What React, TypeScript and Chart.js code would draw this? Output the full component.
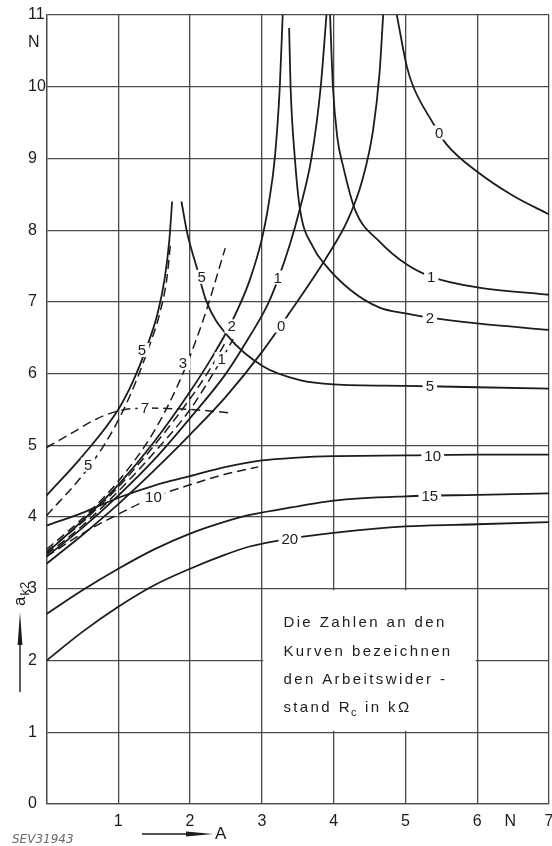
import React, { useEffect, useRef } from "react";
import { Chart, registerables } from "chart.js";

Chart.register(...registerables);

type P = [number, number];

// ---- axes ----
const xTickValues = [0, 1, 2, 3, 4, 5, 6, 7];
const xUnitTick = 6.46;
const yTickValues = [0, 1, 2, 3, 4, 5, 6, 7, 8, 9, 10, 11];
const yUnitTick = 10.61;
const unitLabel = "N";

// ---- solid curves (resonance family) ----
const rise0: P[] = [[0, 3.35], [0.5, 3.75], [1, 4.18], [1.5, 4.65], [2, 5.15], [2.5, 5.68], [3, 6.3], [3.4, 6.87], [3.9, 7.62], [4.2, 8.15], [4.4, 8.7], [4.55, 9.4], [4.64, 10.2], [4.69, 11]];
const rise1: P[] = [[0, 3.45], [0.5, 3.85], [1, 4.3], [1.5, 4.8], [2, 5.38], [2.5, 6.0], [2.83, 6.52], [3.07, 6.94], [3.22, 7.3], [3.39, 7.8], [3.53, 8.3], [3.69, 9], [3.82, 10], [3.9, 11]];
const rise2: P[] = [[0, 3.5], [0.5, 3.95], [1, 4.45], [1.5, 5.05], [2, 5.75], [2.3, 6.22], [2.58, 6.72], [2.83, 7.3], [3.01, 7.92], [3.1, 8.4], [3.18, 9], [3.25, 10], [3.29, 11]];
const rise5: P[] = [[0, 4.3], [0.5, 4.85], [1, 5.5], [1.2, 5.88], [1.4, 6.38], [1.55, 6.85], [1.65, 7.35], [1.71, 7.85], [1.75, 8.4]];
const fall0: P[] = [[4.88, 11], [5.02, 10.28], [5.11, 10], [5.38, 9.5], [5.57, 9.2], [6.02, 8.8], [6.5, 8.48], [7, 8.22]];
const fall1: P[] = [[3.95, 11], [3.99, 10], [4.05, 9.3], [4.13, 8.9], [4.3, 8.28], [4.64, 7.84], [5.02, 7.52], [5.36, 7.35], [6.02, 7.2], [7, 7.1]];
const fall2: P[] = [[3.38, 10.82], [3.4, 10], [3.46, 9], [3.53, 8.3], [3.71, 7.77], [3.88, 7.52], [4.23, 7.17], [4.64, 6.92], [5, 6.84], [5.34, 6.78], [6, 6.7], [7, 6.61]];
const fall5: P[] = [[1.88, 8.4], [1.96, 7.96], [2.09, 7.49], [2.23, 7.0], [2.53, 6.52], [3.02, 6.1], [3.53, 5.91], [4, 5.85], [5, 5.83], [6, 5.81], [7, 5.79]];
const flat10: P[] = [[0, 3.88], [0.5, 4.06], [1, 4.27], [1.5, 4.44], [2, 4.57], [2.5, 4.7], [3, 4.79], [3.5, 4.83], [4, 4.85], [5, 4.86], [6, 4.87], [7, 4.87]];
const flat15: P[] = [[0, 2.65], [0.5, 2.98], [1, 3.28], [1.5, 3.55], [2, 3.77], [2.5, 3.94], [2.83, 4.03], [3.5, 4.15], [4, 4.23], [5, 4.29], [6, 4.31], [7, 4.33]];
const flat20: P[] = [[0, 2.0], [0.5, 2.4], [1, 2.75], [1.5, 3.05], [2, 3.28], [2.5, 3.48], [2.83, 3.59], [3.39, 3.7], [4, 3.78], [5, 3.87], [6, 3.9], [7, 3.93]];

// ---- dashed curves ----
const dash1: P[] = [[0, 3.48], [0.5, 3.88], [1, 4.36], [1.5, 4.9], [2, 5.5], [2.44, 6.2], [2.6, 6.48]];
const dash2: P[] = [[0, 3.52], [0.5, 3.93], [1, 4.42], [1.5, 5.0], [2, 5.65], [2.3, 6.1], [2.5, 6.45]];
const dash3: P[] = [[0, 3.55], [0.5, 3.98], [1, 4.5], [1.5, 5.2], [1.9, 6.0], [2.2, 6.8], [2.49, 7.75]];
const dash5: P[] = [[0, 4.02], [0.5, 4.58], [0.8, 5.0], [1.05, 5.45], [1.25, 5.9], [1.43, 6.38], [1.58, 6.85], [1.68, 7.35], [1.73, 7.85]];
const dash7: P[] = [[0, 4.97], [0.35, 5.17], [0.7, 5.37], [1, 5.48], [1.37, 5.52], [2, 5.5], [2.6, 5.45]];
const dash10: P[] = [[0, 3.45], [0.5, 3.77], [1, 4.04], [1.5, 4.28], [2, 4.45], [2.5, 4.6], [2.95, 4.7]];

const solidCurves: P[][] = [rise0, rise1, rise2, rise5, fall0, fall1, fall2, fall5, flat10, flat15, flat20];
const dashedCurves: P[][] = [dash1, dash2, dash3, dash5, dash7, dash10];

// ---- curve labels (R_c in kOhm) ----
const curveLabelText = ["0", "1", "2", "5", "10", "15", "20", "1", "0", "2", "5", "5", "5", "3", "1", "7", "10"];
const curveLabelX = [5.47, 5.36, 5.34, 5.34, 5.38, 5.34, 3.39, 3.22, 3.27, 2.58, 2.16, 1.33, 0.58, 1.9, 2.44, 1.37, 1.49];
const curveLabelY = [9.36, 7.35, 6.78, 5.83, 4.86, 4.3, 3.7, 7.34, 6.67, 6.66, 7.35, 6.33, 4.73, 6.15, 6.2, 5.52, 4.28];

const noteLines = ["Die Zahlen an den", "Kurven bezeichnen", "den Arbeitswider -"];
const noteLast = ["stand R", "c", " in k\u03A9"];
const noteBox = { x0: 3, x1: 6, y0: 1, y1: 3 };
const yLabelMain = "a";
const yLabelSub = "k2";
const xLabel = "A";
const sourceNote = "SEV31943";

const FONT = '"Liberation Sans Narrow", "Liberation Sans", sans-serif';
const INK = "#1c1c1c";
const GRID = "#4a4a4a";

const overlay = {
  id: "overlay",
  beforeDatasetsDraw(chart: any) {
    const { ctx, scales } = chart;
    const x = scales.x, y = scales.y;
    const l = x.getPixelForValue(noteBox.x0), r = x.getPixelForValue(noteBox.x1);
    const t = y.getPixelForValue(noteBox.y1), b = y.getPixelForValue(noteBox.y0);
    ctx.save();
    ctx.fillStyle = "#fff";
    ctx.fillRect(l + 1.5, t + 1.5, r - l - 3, b - t - 3);
    ctx.restore();
  },
  afterDatasetsDraw(chart: any) {
    const { ctx, scales } = chart;
    const x = scales.x, y = scales.y;
    ctx.save();
    ctx.font = `15px ${FONT}`;
    ctx.textAlign = "center";
    ctx.textBaseline = "middle";
    curveLabelText.forEach((t, i) => {
      const px = x.getPixelForValue(curveLabelX[i]);
      const py = y.getPixelForValue(curveLabelY[i]);
      const w = ctx.measureText(t).width + 6;
      ctx.fillStyle = "#fff";
      ctx.fillRect(px - w / 2, py - 7, w, 14);
      ctx.fillStyle = INK;
      ctx.fillText(t, px, py + 1);
    });
    // note box text
    const tx = x.getPixelForValue(3.3);
    const lineY = [2.52, 2.12, 1.73, 1.34];
    ctx.textAlign = "left";
    ctx.font = `15px "Liberation Sans", sans-serif`;
    (ctx as any).letterSpacing = "2.4px";
    ctx.fillStyle = INK;
    noteLines.forEach((s, i) => ctx.fillText(s, tx, y.getPixelForValue(lineY[i])));
    const ly = y.getPixelForValue(lineY[3]);
    let cx = tx;
    ctx.fillText(noteLast[0], cx, ly);
    cx += ctx.measureText(noteLast[0]).width;
    ctx.font = `11px "Liberation Sans", sans-serif`;
    (ctx as any).letterSpacing = "1px";
    ctx.fillText(noteLast[1], cx - 1, ly + 5);
    cx += ctx.measureText(noteLast[1]).width;
    ctx.font = `15px "Liberation Sans", sans-serif`;
    (ctx as any).letterSpacing = "2.4px";
    ctx.fillText(noteLast[2], cx, ly);
    (ctx as any).letterSpacing = "0px";
    ctx.restore();
  },
  afterDraw(chart: any) {
    const { ctx } = chart;
    ctx.save();
    ctx.fillStyle = INK;
    ctx.strokeStyle = INK;
    // x axis arrow + label
    ctx.lineWidth = 1.4;
    ctx.beginPath();
    ctx.moveTo(142, 834);
    ctx.lineTo(192, 834);
    ctx.stroke();
    ctx.beginPath();
    ctx.moveTo(186, 831.6);
    ctx.lineTo(213, 834);
    ctx.lineTo(186, 836.4);
    ctx.closePath();
    ctx.fill();
    ctx.font = `17px ${FONT}`;
    ctx.textAlign = "left";
    ctx.textBaseline = "middle";
    ctx.fillText(xLabel, 215, 834);
    // y axis arrow + label (rotated)
    ctx.beginPath();
    ctx.moveTo(20, 692);
    ctx.lineTo(20, 640);
    ctx.stroke();
    ctx.beginPath();
    ctx.moveTo(17.6, 645);
    ctx.lineTo(20, 612);
    ctx.lineTo(22.4, 645);
    ctx.closePath();
    ctx.fill();
    ctx.translate(20, 606);
    ctx.rotate(-Math.PI / 2);
    ctx.textAlign = "left";
    ctx.textBaseline = "middle";
    ctx.font = `17px ${FONT}`;
    ctx.fillText(yLabelMain, 0, 0);
    const aw = ctx.measureText(yLabelMain).width;
    ctx.font = `13px ${FONT}`;
    ctx.fillText(yLabelSub, aw + 1, 5);
    ctx.restore();
    // source note
    ctx.save();
    ctx.fillStyle = "#6a6a6a";
    ctx.font = `italic 12px "DejaVu Sans", sans-serif`;
    ctx.textAlign = "left";
    ctx.textBaseline = "middle";
    ctx.fillText(sourceNote, 12, 840);
    ctx.restore();
  },
};

export default function App() {
  const ref = useRef<HTMLCanvasElement>(null);
  useEffect(() => {
    const toPts = (c: P[]) => c.map(([x, y]) => ({ x, y }));
    const datasets: any[] = [
      ...solidCurves.map((c) => ({
        data: toPts(c),
        borderColor: INK,
        borderWidth: 1.8,
        pointRadius: 0,
        fill: false,
        cubicInterpolationMode: "monotone",
      })),
      ...dashedCurves.map((c) => ({
        data: toPts(c),
        borderColor: INK,
        borderWidth: 1.5,
        borderDash: [9, 5],
        pointRadius: 0,
        fill: false,
        cubicInterpolationMode: "monotone",
      })),
    ];
    const gridColor = (unit: number) => (c: any) =>
      c.tick && Math.abs(c.tick.value - unit) < 1e-6 ? "rgba(0,0,0,0)" : GRID;
    const chart = new Chart(ref.current!, {
      type: "line",
      data: { datasets },
      plugins: [overlay],
      options: {
        responsive: false,
        animation: false,
        devicePixelRatio: 1,
        layout: { padding: { left: 28, top: 15, right: 3, bottom: 0 } },
        plugins: { legend: { display: false }, tooltip: { enabled: false } },
        elements: { line: { tension: 0 } },
        scales: {
          x: {
            type: "linear",
            min: 0,
            max: 7,
            afterBuildTicks: (s: any) => {
              s.ticks = [...xTickValues.slice(0, 7), xUnitTick, xTickValues[7]].map((v) => ({ value: v }));
            },
            afterFit: (s: any) => {
              s.height = 42;
              s.paddingLeft = 0;
              s.paddingRight = 0;
            },
            grid: { color: gridColor(xUnitTick), lineWidth: 1.3, drawTicks: false },
            border: { display: true, color: GRID, width: 1.3 },
            ticks: {
              autoSkip: false,
              maxRotation: 0,
              padding: 8,
              color: INK,
              font: { family: FONT, size: 16 },
              callback: (v: any) => (Math.abs(v - xUnitTick) < 1e-6 ? unitLabel : v === 0 ? "" : String(v)),
            },
          },
          y: {
            type: "linear",
            min: 0,
            max: 11,
            afterBuildTicks: (s: any) => {
              s.ticks = [...yTickValues.slice(0, 11), yUnitTick, yTickValues[11]].map((v) => ({ value: v }));
            },
            afterFit: (s: any) => {
              s.width = 18.5;
              s.paddingTop = 0;
              s.paddingBottom = 0;
            },
            grid: { color: gridColor(yUnitTick), lineWidth: 1.3, drawTicks: false },
            border: { display: true, color: GRID, width: 1.3 },
            ticks: {
              autoSkip: false,
              crossAlign: "far",
              padding: 0,
              color: INK,
              font: { family: FONT, size: 16 },
              callback: (v: any) => (Math.abs(v - yUnitTick) < 1e-6 ? unitLabel : String(v)),
            },
          },
        },
      } as any,
    });
    return () => chart.destroy();
  }, []);
  return (
    <div style={{ position: "absolute", left: 0, top: 0, width: 552, height: 846, background: "#fff" }}>
      <canvas ref={ref} width={552} height={846} style={{ display: "block" }} />
    </div>
  );
}
